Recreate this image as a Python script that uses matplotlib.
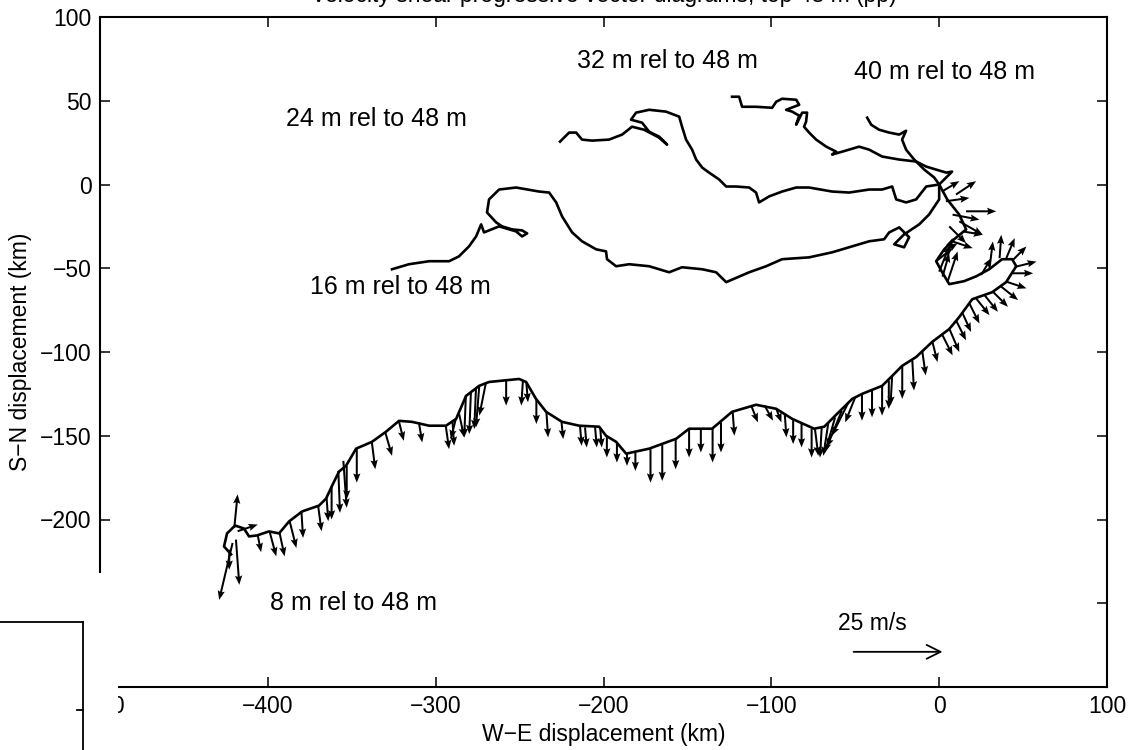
import matplotlib
matplotlib.use("Agg")
import matplotlib.pyplot as plt
from matplotlib.lines import Line2D
from matplotlib.patches import Rectangle

plt.rcParams["font.family"] = ["Liberation Sans", "DejaVu Sans"]

# Progressive vector diagrams of shear relative to 48 m (km), all start at origin
track_8m_x = [-421.9, -426.1, -424.3, -419.5, -414.2, -411.2, -406.4, -399.3, -393.3, -387.4,
              -379.6, -369.5, -365.3, -361.7, -357.6, -353.4, -347.4, -337.9, -329.6, -321.8,
              -314.1, -303.9, -293.8, -287.8, -281.9, -274.1, -268.2, -250.3, -246.1, -240.2,
              -234.2, -224.7, -214.5, -202.6, -198.5, -192.5, -186.5, -172.8, -156.7, -149.0,
              -135.3, -123.4, -109.1, -97.1, -87.6, -74.5, -68.5, -59.6, -51.8, -45.9,
              -34.0, -28.0, -22.1, -13.7, -4.2, 6.0, 11.9, 19.7, 31.6, 39.9,
              45.9, 43.5, 37.5, 29.8, 22.1, 14.9, 6.0, 1.8, -1.8, 3.0,
              8.9, 16.1, 11.9, 4.8, 0.0]
track_8m_y = [-220.8, -216.1, -208.3, -203.6, -205.4, -210.1, -209.5, -207.1, -208.3, -201.2,
              -195.2, -191.7, -187.5, -179.8, -171.4, -167.9, -157.7, -153.6, -147.6, -141.1,
              -141.7, -144.0, -144.0, -139.9, -126.2, -120.2, -117.9, -116.1, -117.9, -128.0,
              -135.7, -141.7, -144.0, -144.6, -150.0, -153.6, -160.7, -157.7, -151.8, -145.8,
              -145.8, -135.7, -131.5, -133.9, -139.9, -145.8, -144.6, -135.7, -128.0, -125.0,
              -120.2, -114.3, -108.3, -103.0, -94.0, -86.3, -79.2, -68.5, -64.3, -58.3,
              -48.8, -44.6, -44.6, -50.6, -54.8, -57.7, -59.5, -52.4, -45.8, -38.7,
              -32.7, -26.8, -17.9, -8.9, 0.0]

track_16m_x = [0.0, 0.0, -6.0, -11.9, -20.9, -26.8, -20.9, -17.9, -23.8, -29.8,
               -32.8, -41.7, -63.8, -77.5, -93.6, -103.1, -113.2, -126.9, -132.9, -141.2,
               -153.2, -160.9, -172.8, -184.7, -192.5, -197.9, -198.5, -204.4, -212.8, -218.7,
               -224.7, -228.2, -232.4, -238.4, -252.1, -262.2, -268.2, -269.4, -264.0, -260.4,
               -254.5, -248.5, -245.5, -248.5, -252.1, -262.2, -271.2, -272.9, -275.9, -280.1,
               -286.1, -292.0, -303.9, -315.9, -326.0]
track_16m_y = [0.0, -8.9, -17.9, -23.8, -29.8, -35.7, -37.5, -31.5, -25.6, -28.6,
               -32.7, -33.9, -40.5, -43.5, -44.6, -48.8, -52.4, -58.3, -52.4, -50.6,
               -49.4, -52.4, -48.8, -47.6, -48.8, -44.6, -39.9, -38.7, -33.9, -28.6,
               -19.0, -10.7, -4.8, -4.2, -1.8, -3.0, -8.9, -16.7, -22.6, -25.0,
               -26.8, -27.4, -29.2, -31.0, -28.0, -25.0, -28.6, -23.8, -31.0, -36.9,
               -42.9, -45.8, -45.8, -47.6, -50.6]

track_24m_x = [0.0, -7.7, -13.7, -19.7, -25.6, -28.0, -34.0, -41.7, -53.6, -63.8,
               -77.5, -85.2, -93.6, -101.3, -107.3, -109.1, -113.2, -121.0, -126.9, -131.1,
               -137.1, -141.2, -144.8, -147.2, -150.8, -153.2, -154.9, -162.7, -172.8, -180.6,
               -183.6, -177.0, -172.8, -166.9, -162.1, -166.9, -175.8, -183.0, -188.9, -196.7,
               -206.8, -212.8, -216.3, -220.5, -225.9]
track_24m_y = [0.0, -1.2, -8.9, -10.7, -8.9, -1.2, -3.0, -3.0, -4.8, -4.2,
               -1.8, -1.8, -4.2, -7.1, -10.7, -4.8, -1.8, -1.2, -1.2, 3.0,
               7.1, 10.1, 14.9, 20.8, 26.8, 34.5, 40.5, 43.5, 44.6, 42.9,
               38.7, 36.9, 31.5, 28.6, 23.8, 28.0, 32.7, 34.5, 29.8, 26.8,
               26.2, 26.8, 31.0, 31.0, 25.6]

track_32m_x = [0.0, 7.7, 4.2, -1.8, -7.7, -13.7, -23.8, -34.0, -41.7, -47.7,
               -57.8, -63.8, -61.4, -67.3, -73.3, -77.5, -80.5, -79.3, -78.7, -81.6,
               -85.2, -83.4, -87.6, -91.2, -83.4, -85.2, -93.6, -97.1, -99.5, -109.1,
               -117.4, -119.2, -123.4]
track_32m_y = [0.0, 7.7, 7.1, 8.9, 10.7, 13.7, 14.9, 16.7, 20.8, 22.6,
               19.6, 17.9, 19.6, 22.6, 26.8, 31.0, 34.5, 37.5, 42.9, 42.9,
               35.7, 41.1, 43.5, 44.6, 47.6, 50.6, 51.2, 49.4, 45.8, 46.4,
               46.4, 52.4, 52.4]

track_40m_x = [0.0, -3.0, -8.9, -14.9, -19.7, -22.1, -19.7, -23.8, -29.8, -35.8, -40.5, -42.9]
track_40m_y = [0.0, 4.2, 8.9, 14.9, 20.8, 26.8, 32.1, 29.8, 31.0, 32.7, 35.7, 39.9]

# shear vectors drawn on the 8 m track (start point and displacement, km)
arrow_x = [-420, -418, -419, -421, -423, -406, -399, -393, -387, -380,
           -370, -365, -362, -358, -355, -353, -347, -338, -330, -322,
           -310, -294, -290, -288, -286, -282, -279, -276, -274, -270,
           -258, -248, -246, -240, -234, -225, -214, -211, -205, -202,
           -198, -192, -186, -181, -172, -165, -157, -149, -142, -135,
           -130, -123, -112, -104, -97, -92, -87, -82, -76, -74,
           -70, -66, -62, -58, -54, -50, -46, -40, -34, -30,
           -28, -22, -16, -10, -4, 2, 6, 10, 14, 18,
           22, 27, 32, 37, 40, 44, 46, 44, 40, 36,
           30, 25, 5, 2, 0, -2, 3, 8, 14, 4,
           8, 10, 2, 12, 16, 6]
arrow_y = [-205, -207, -212, -214, -218, -209.5, -207, -208, -201, -195,
           -192, -187, -180, -171, -165, -168, -158, -154, -148, -141,
           -142, -144, -141, -140, -137, -126, -124, -122, -120, -118,
           -117, -117, -118, -128, -136, -142, -144, -145, -145, -145,
           -150, -154, -160, -159, -158, -155, -152, -146, -146, -146,
           -142, -136, -132, -132, -134, -137, -140, -142, -146, -146,
           -145, -142, -139, -135, -130, -127, -125, -123, -120, -117,
           -114, -108, -105, -100, -94, -90, -86, -81, -77, -71,
           -68, -66, -64, -61, -58, -53, -49, -45, -44, -44,
           -50, -54, -58, -55, -52, -46, -40, -34, -28, -10,
           -18, -6, -4, -22, -16, -25]
arrow_u = [2, 12, 2, -8, 0, 2, 4, 3, 4, 1,
           2, 1, 0, 1, 2, 0, 0, 2, 4, 3,
           2, 2, 1, -3, 3, -1, -1, -1, -2, -4,
           0, -1, 1, 0, 1, 1, 1, 1, 1, 1,
           0, 0, 0, 0, 0, 0, 0, 0, 0, 0,
           0, 1, 4, 5, 3, 1, 0, 0, 0, 2,
           -1, -3, -6, -9, -10, -6, 0, 0, 0, 0,
           -1, 0, 1, 2, 3, 6, 6, 6, 5, 6,
           8, 8, 9, 10, 12, 12, 12, 8, 5, 1,
           2, 6, 6, 4, 8, 10, 8, 12, 12, 14,
           16, 12, 10, 14, 18, 10]
arrow_v = [20, 4, -27, -34, -12, -10, -15, -14, -16, -16,
           -15, -14, -20, -25, -28, -20, -20, -16, -14, -12,
           -12, -14, -15, -12, -14, -25, -25, -24, -25, -20,
           -15, -15, -12, -15, -15, -10, -12, -12, -12, -12,
           -13, -12, -8, -12, -20, -22, -18, -17, -14, -20,
           -18, -14, -10, -9, -8, -14, -15, -15, -17, -16,
           -18, -20, -21, -22, -20, -15, -16, -16, -18, -17,
           -18, -20, -18, -14, -12, -12, -14, -12, -11, -12,
           -10, -10, -9, -8, -4, 0, 3, 8, 12, 14,
           16, 10, 18, 14, 20, 8, 5, -4, -2, 2,
           -3, 8, 6, -8, 0, -10]

labels = ["8 m rel to 48 m", "16 m rel to 48 m", "24 m rel to 48 m",
          "32 m rel to 48 m", "40 m rel to 48 m"]
label_x = [-399, -375, -389, -216, -51]
label_y = [-250, -61, 39, 74, 67]

key_speed = 25      # m/s
key_len_km = 53     # length of the 25 m/s reference arrow
key_x, key_y = -51, -279

fs_text = 18
fs_tick = 16.5

fig = plt.figure(figsize=(11.4, 7.5), dpi=100)
ax = fig.add_axes([100 / 1140, 63 / 750, 1007 / 1140, 670 / 750])

tracks = [(track_8m_x, track_8m_y), (track_16m_x, track_16m_y), (track_24m_x, track_24m_y),
          (track_32m_x, track_32m_y), (track_40m_x, track_40m_y)]
for tx, ty in tracks:
    ax.plot(tx, ty, color="k", lw=1.9, solid_joinstyle="round")

ax.quiver(arrow_x, arrow_y, arrow_u, arrow_v, angles="xy", scale_units="xy", scale=1,
          color="k", width=0.002, headwidth=3.6, headlength=4.6, headaxislength=4)

for s, lx, ly in zip(labels, label_x, label_y):
    ax.text(lx, ly, s, fontsize=fs_text, ha="left", va="center")

ax.text(key_x - 9, key_y + 17, f"{key_speed} m/s", fontsize=fs_tick, ha="left", va="center")
ax.annotate("", xy=(key_x + key_len_km, key_y), xytext=(key_x, key_y),
            arrowprops=dict(arrowstyle="->", lw=1.3, color="k", mutation_scale=25,
                            shrinkA=0, shrinkB=0))

ax.set_xlim(-500, 100)
ax.set_ylim(-300, 100)
ax.set_xticks(range(-500, 101, 100))
yt = list(range(-300, 101, 50))
ax.set_yticks(yt)
# the two lowest labels sit under the pasted-over corner of the scan
ax.set_yticklabels(["" if v < -200 else f"{v}".replace("-", "\u2212") for v in yt])
ax.tick_params(direction="in", length=7, width=1.1, top=True, right=True,
               labelsize=fs_tick, pad=6)
for sp in ax.spines.values():
    sp.set_linewidth(1.5)
ax.set_xlabel("W\u2212E displacement (km)", fontsize=fs_tick, labelpad=3)
ax.set_ylabel("S\u2212N displacement (km)", fontsize=fs_tick, labelpad=6)

# title is cut off at the top edge of the scan
fig.text(0.53, 1 - 2 / 750, "Velocity shear progressive vector diagrams, top 48 m (pp)",
         ha="center", va="baseline", fontsize=fs_tick)

# pasted-over corner of the scan
fig.add_artist(Rectangle((0, 0), 118 / 1140, 177 / 750, transform=fig.transFigure,
                         facecolor="white", edgecolor="none", zorder=10))
fig.add_artist(Line2D([0, 83 / 1140], [128 / 750, 128 / 750], transform=fig.transFigure,
                      color="k", lw=1.3, zorder=11))
fig.add_artist(Line2D([83 / 1140, 83 / 1140], [0, 128 / 750], transform=fig.transFigure,
                      color="k", lw=1.3, zorder=11))
fig.add_artist(Line2D([77 / 1140, 83 / 1140], [40 / 750, 40 / 750], transform=fig.transFigure,
                      color="k", lw=1.3, zorder=11))

fig.savefig("out.png", dpi=100)
